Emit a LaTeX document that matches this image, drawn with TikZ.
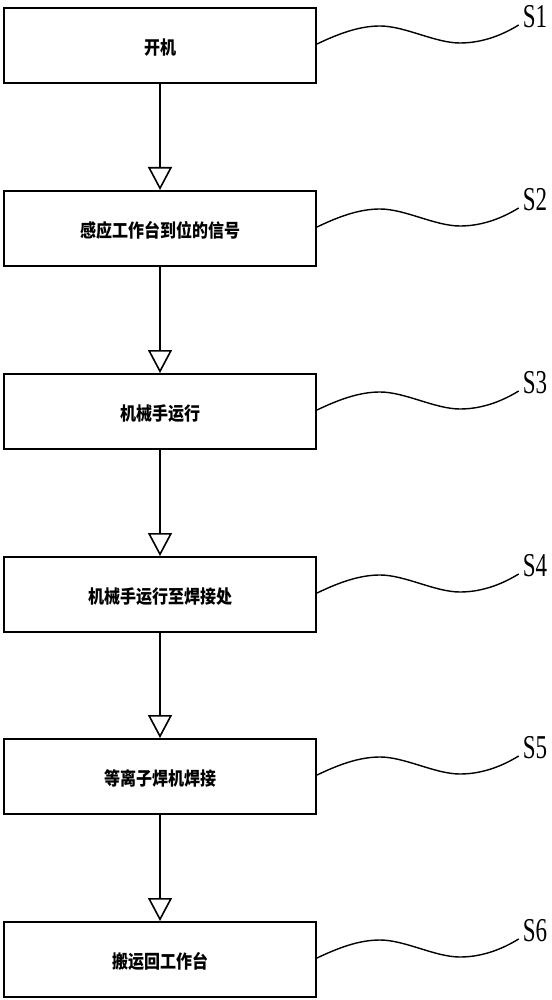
\documentclass[tikz,border=0pt]{standalone}
\usepackage{fontspec}
\usepackage{graphicx}
\setmainfont{Liberation Serif}
\newfontfamily\cjk{Noto Sans CJK SC}
\usetikzlibrary{arrows.meta}
\tikzset{
  stepbox/.style={draw, line width=2pt, minimum width=312pt, minimum height=75pt, inner sep=0pt},
  steptext/.style={inner sep=0pt, font=\cjk\bfseries\fontsize{16}{16}\selectfont},
  flow/.style={line width=2pt, -{Triangle[open, width=24pt, length=23pt, line width=1.6pt]}},
  squig/.style={line width=1.4pt},
  steplabel/.style={inner sep=0pt, font=\fontsize{23}{23}\selectfont}
}
\begin{document}
\begin{tikzpicture}[x=1pt,y=-1pt]
\useasboundingbox (0,0) rectangle (551,1000);
\foreach \i/\t/\txt in {1/7/开机, 2/190/感应工作台到位的信号, 3/373/机械手运行, 4/556/机械手运行至焊接处, 5/738/等离子焊机焊接, 6/921/搬运回工作台}{
  \node[stepbox] (b\i) at (160,\t+38.5) {};
  \node[steptext] (t\i) at (160,\t+40.5) {\scalebox{1}[1.15]{\txt}};
  \node[steplabel] (s\i) at (535,\t+10) {\scalebox{1}[1.45]{S\i}};
  \draw[squig] ([yshift=1.5pt]b\i.east) .. controls +(23,-11) and +(-20,0) .. ++(63,-18)
     .. controls +(25,0) and +(-25,0) .. ++(80,17)
     .. controls +(25,0) and +(-13,8) .. ([xshift=-4pt,yshift=-8pt]s\i.west);
}
\foreach \a/\b in {1/2,2/3,3/4,4/5,5/6}{
  \draw[flow] (b\a) -- (b\b);
}
\end{tikzpicture}
\end{document}
